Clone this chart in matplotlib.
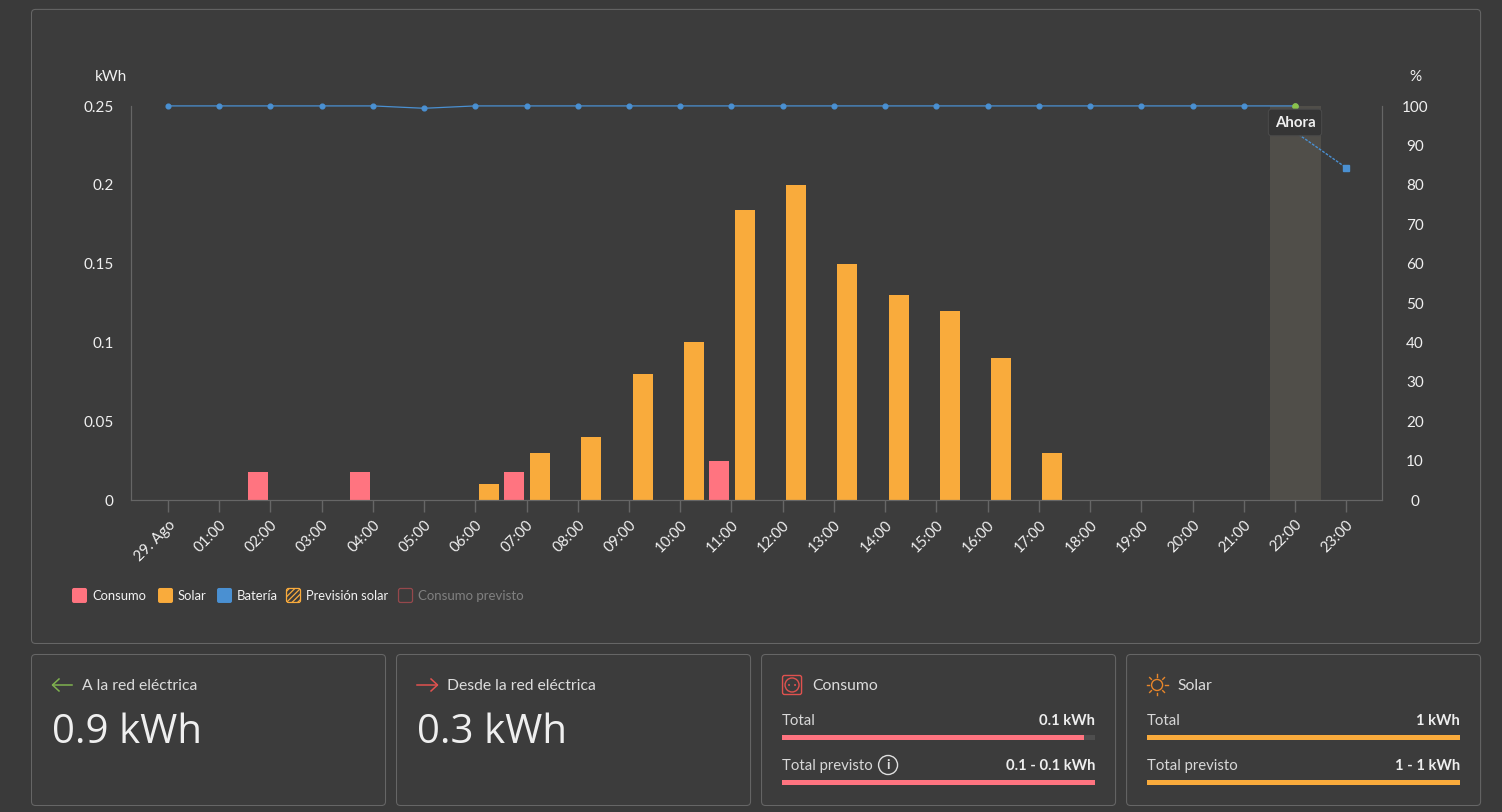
import matplotlib
matplotlib.use('Agg')
import matplotlib.pyplot as plt
from matplotlib.patches import FancyBboxPatch, Circle, Rectangle
import numpy as np

plt.rcParams['font.family'] = ['Lato', 'DejaVu Sans']
plt.rcParams['hatch.linewidth'] = 0.9

# datos
horas = ['29. Ago', '01:00', '02:00', '03:00', '04:00', '05:00', '06:00', '07:00',
         '08:00', '09:00', '10:00', '11:00', '12:00', '13:00', '14:00', '15:00',
         '16:00', '17:00', '18:00', '19:00', '20:00', '21:00', '22:00', '23:00']
consumo = [0, 0, 0.018, 0, 0.018, 0, 0, 0.018, 0, 0, 0, 0.025,
           0, 0, 0, 0, 0, 0, 0, 0, 0, 0, 0, 0]
solar = [0, 0, 0, 0, 0, 0, 0.01, 0.03, 0.04, 0.08, 0.1, 0.184,
         0.2, 0.15, 0.13, 0.12, 0.09, 0.03, 0, 0, 0, 0, 0, 0]
bateria = [100, 100, 100, 100, 100, 99.4, 100, 100, 100, 100, 100, 100,
           100, 100, 100, 100, 100, 100, 100, 100, 100, 100, 100]
bateria_prevista = [93.4, 84.3]
yticks_kwh = [0, 0.05, 0.1, 0.15, 0.2, 0.25]
ylabels_kwh = ['0', '0.05', '0.1', '0.15', '0.2', '0.25']
yticks_pct = [0, 10, 20, 30, 40, 50, 60, 70, 80, 90, 100]

ROJO = '#ff7480'
NARANJA = '#f9ab3c'
AZUL = '#4a90d2'
VERDE = '#8bc34a'
FONDO = '#3a3a3a'
PANEL = '#3c3c3c'
BORDE = '#666666'
TEXTO = '#f0f0f0'

W, H = 1502, 812
# el +0.1 evita que 8.12*100 se trunque a 811 pixeles
fig = plt.figure(figsize=((W + 0.1) / 100, (H + 0.1) / 100), dpi=100, facecolor=FONDO)

# capa en pixeles para paneles, leyenda e iconos
bg = fig.add_axes([0, 0, 1, 1])
bg.set_xlim(0, W)
bg.set_ylim(H, 0)
bg.axis('off')


def panel(x0, y0, x1, y1):
    bg.add_patch(FancyBboxPatch((x0, y0), x1 - x0, y1 - y0,
                                boxstyle='round,pad=0,rounding_size=4',
                                fc=PANEL, ec=BORDE, lw=0.75))


panel(31.5, 9.5, 1480.5, 643.5)
panel(31.5, 654.5, 385.5, 805.5)
panel(396.5, 654.5, 750.5, 805.5)
panel(761.5, 654.5, 1115.5, 805.5)
panel(1126.5, 654.5, 1480.5, 805.5)

# grafico principal
x0, x1, y0, y1 = 131, 1382, 106, 500
ax = fig.add_axes([x0 / W, 1 - y1 / H, (x1 - x0) / W, (y1 - y0) / H])
ax.patch.set_alpha(0)
x = np.arange(len(horas))
ax.axvspan(21.51, 22.5, color='#504e49', lw=0, zorder=0)
ax.bar(x - 0.25, consumo, 0.39, color=ROJO, zorder=2)
ax.bar(x + 0.265, solar, 0.39, color=NARANJA, zorder=2)
ax.set_xlim(-0.72, 23.7)
ax.set_ylim(0, 0.25)
ax.set_xticks(x)
ax.set_xticklabels(horas, rotation=45, ha='right', rotation_mode='anchor',
                   fontsize=10.8, color=TEXTO)
ax.tick_params(axis='x', length=8.5, width=1, color='#666666', pad=4)
ax.set_yticks(yticks_kwh)
ax.set_yticklabels(ylabels_kwh, fontsize=11, color=TEXTO, ha='right')
ax.tick_params(axis='y', length=0, pad=12.6)
ax.spines['top'].set_visible(False)
for s in ['left', 'right', 'bottom']:
    ax.spines[s].set_color('#666666')

ax2 = ax.twinx()
ax2.patch.set_alpha(0)
ax2.set_ylim(0, 100)
ax2.set_yticks(yticks_pct)
ax2.set_yticklabels([str(v) for v in yticks_pct], fontsize=11, color=TEXTO, ha='center')
ax2.tick_params(axis='y', length=0, pad=23.8)
ax2.spines['top'].set_visible(False)
for s in ['left', 'right', 'bottom']:
    ax2.spines[s].set_color('#666666')
ax2.plot(x[:23], bateria, color=AZUL, lw=0.9, marker='o', ms=3.4, clip_on=False, zorder=5)
ax2.plot(x[22:24], bateria_prevista, color=AZUL, lw=1.0, ls=(0, (2, 1)), zorder=5)
ax2.plot(x[23], bateria_prevista[1], color=AZUL, marker='s', ms=3.8, zorder=5)
ax2.plot(x[22], bateria[22], color=VERDE, marker='o', ms=3.8, clip_on=False, zorder=6)
ax2.text(22, 95.8, 'Ahora', ha='center', va='center', fontsize=10.8, fontweight='bold',
         color=TEXTO, zorder=10,
         bbox=dict(boxstyle='round,pad=0.42,rounding_size=0.2', fc='#353535', ec='#4a4a4a', lw=0.75))

bg.text(111, 77, 'kWh', ha='center', va='center', fontsize=11, color=TEXTO)
bg.text(1415, 77, '%', ha='center', va='center', fontsize=11, color=TEXTO)

# leyenda
for xi, color, nombre in [(72, ROJO, 'Consumo'), (158, NARANJA, 'Solar'), (217, AZUL, 'Batería')]:
    bg.add_patch(FancyBboxPatch((xi, 588), 15, 15, boxstyle='round,pad=0,rounding_size=2',
                                fc=color, ec='none'))
    bg.text(xi + 20, 595.5, nombre, va='center', fontsize=9.4, color='#f2f2f2')
bg.add_patch(FancyBboxPatch((286.5, 588.5), 14, 14, boxstyle='round,pad=0,rounding_size=2',
                            fc='#3c3c3c', ec=NARANJA, lw=0.9, hatch='//////'))
bg.text(306, 595.5, 'Previsión solar', va='center', fontsize=9.3, color='#f2f2f2')
bg.add_patch(FancyBboxPatch((398.5, 588.5), 14, 14, boxstyle='round,pad=0,rounding_size=2',
                            fc='none', ec='#96484c', lw=0.9))
bg.text(418, 595.5, 'Consumo previsto', va='center', fontsize=9.5, color='#808080')

# tarjetas de red
bg.plot([53, 72], [685, 685], color='#7fb24f', lw=1.1)
bg.plot([59, 52.5, 59], [679, 685, 691], color='#7fb24f', lw=1.1)
bg.text(82, 686, 'A la red eléctrica', va='center', fontsize=11.3, color='#dcdcdc')
bg.text(52, 733, '0.9 kWh', va='center', fontsize=29, color='#efefef', family='Open Sans')

bg.plot([417, 437], [685, 685], color='#e0524f', lw=1.1)
bg.plot([431, 437.5, 431], [679, 685, 691], color='#e0524f', lw=1.1)
bg.text(447, 686, 'Desde la red eléctrica', va='center', fontsize=11.3, color='#dcdcdc')
bg.text(417, 733, '0.3 kWh', va='center', fontsize=29, color='#efefef', family='Open Sans')

# tarjeta consumo
bg.add_patch(FancyBboxPatch((782.5, 675.5), 19, 19, boxstyle='round,pad=0,rounding_size=2',
                            fc='none', ec='#e0524f', lw=1))
bg.add_patch(Circle((792, 685), 7, fc='none', ec='#e0524f', lw=1))
bg.add_patch(Circle((789, 685), 1, fc='#e0524f', ec='none'))
bg.add_patch(Circle((795, 685), 1, fc='#e0524f', ec='none'))
bg.text(812, 686, 'Consumo', va='center', fontsize=11.3, color='#dcdcdc')
bg.text(782, 721, 'Total', va='center', fontsize=10.8, color='#d8d8d8')
bg.text(1095, 721, '0.1 kWh', va='center', ha='right', fontsize=10.6, fontweight='bold', color='#eeeeee')
bg.add_patch(Rectangle((782, 735), 313, 5, fc='#4e4e4e', ec='none'))
bg.add_patch(Rectangle((782, 735), 302, 5, fc=ROJO, ec='none'))
bg.text(782, 766, 'Total previsto', va='center', fontsize=10.7, color='#d8d8d8')
bg.add_patch(Circle((888, 765), 9.5, fc='none', ec='#e0e0e0', lw=1))
bg.text(888, 765, 'i', ha='center', va='center', fontsize=10, fontweight='bold', color='#e0e0e0')
bg.text(1095, 766, '0.1 - 0.1 kWh', va='center', ha='right', fontsize=10.6, fontweight='bold', color='#eeeeee')
bg.add_patch(Rectangle((782, 780), 313, 5, fc=ROJO, ec='none'))

# tarjeta solar
bg.add_patch(Circle((1157, 685), 5.5, fc='none', ec='#e8862a', lw=1))
for ang in np.arange(0, 360, 45):
    c, s = np.cos(np.radians(ang)), np.sin(np.radians(ang))
    bg.plot([1157 + 8 * c, 1157 + 10.5 * c], [685 + 8 * s, 685 + 10.5 * s], color='#e8862a', lw=1)
bg.text(1177, 686, 'Solar', va='center', fontsize=11.3, color='#dcdcdc')
bg.text(1147, 721, 'Total', va='center', fontsize=10.8, color='#d8d8d8')
bg.text(1460, 721, '1 kWh', va='center', ha='right', fontsize=10.6, fontweight='bold', color='#eeeeee')
bg.add_patch(Rectangle((1147, 735), 313, 5, fc=NARANJA, ec='none'))
bg.text(1147, 766, 'Total previsto', va='center', fontsize=10.7, color='#d8d8d8')
bg.text(1460, 766, '1 - 1 kWh', va='center', ha='right', fontsize=10.6, fontweight='bold', color='#eeeeee')
bg.add_patch(Rectangle((1147, 780), 313, 5, fc=NARANJA, ec='none'))

fig.savefig('out.png', dpi=100, facecolor=FONDO)
